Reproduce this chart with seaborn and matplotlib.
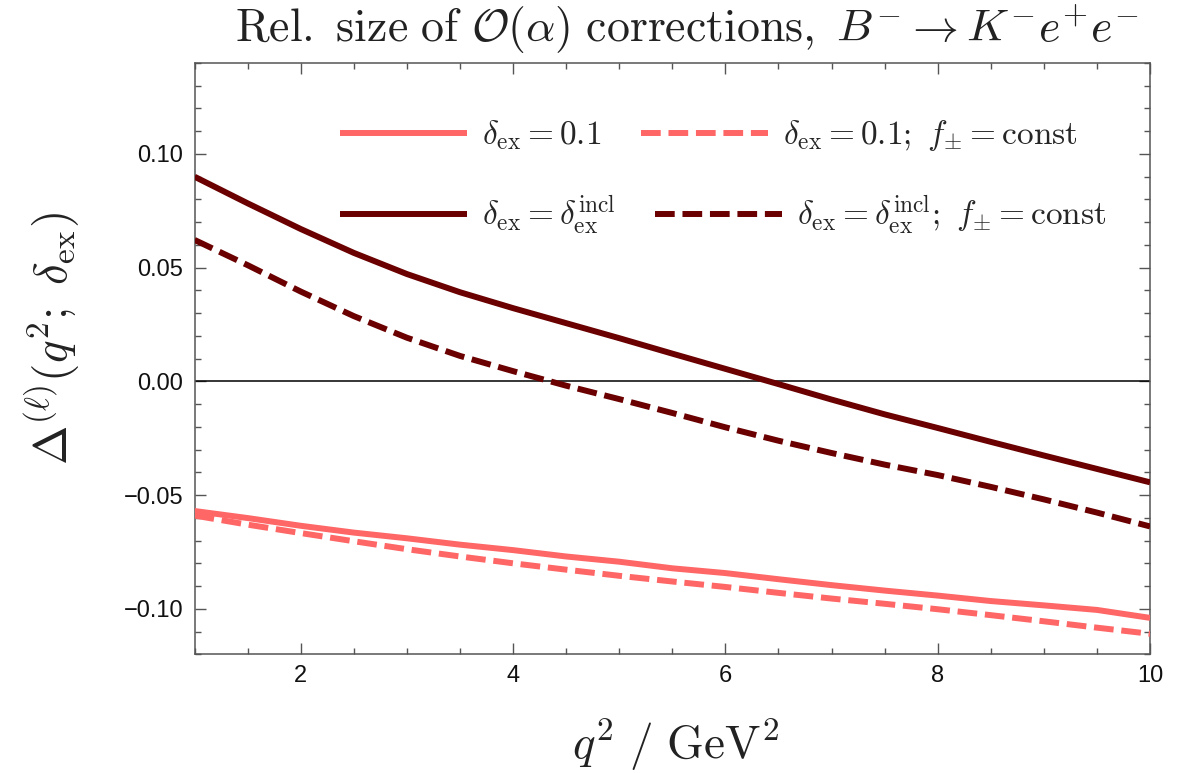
import matplotlib
matplotlib.use("Agg")
import matplotlib.pyplot as plt
from matplotlib.ticker import MultipleLocator, FuncFormatter
from matplotlib.lines import Line2D
import pandas as pd
import seaborn as sns

# q^2 grid in GeV^2
q2 = [1.0, 1.5, 2.0, 2.5, 3.0, 3.5, 4.0, 4.5, 5.0, 5.5,
      6.0, 6.5, 7.0, 7.5, 8.0, 8.5, 9.0, 9.5, 10.0]

# relative O(alpha) correction, delta_ex = 0.1
delta_01 = [-0.0570, -0.0601, -0.0635, -0.0665, -0.0690, -0.0718, -0.0742, -0.0770, -0.0793, -0.0822,
            -0.0843, -0.0870, -0.0896, -0.0920, -0.0942, -0.0966, -0.0985, -0.1005, -0.1040]
# delta_ex = 0.1 with constant form factors
delta_01_const = [-0.0590, -0.0630, -0.0667, -0.0703, -0.0738, -0.0770, -0.0800, -0.0828, -0.0855, -0.0880,
                  -0.0904, -0.0930, -0.0955, -0.0978, -0.1002, -0.1028, -0.1055, -0.1083, -0.1110]
# delta_ex = delta_ex^incl
delta_incl = [0.0900, 0.0783, 0.0670, 0.0565, 0.0472, 0.0392, 0.0322, 0.0256, 0.0190, 0.0122,
              0.0055, -0.0012, -0.0080, -0.0145, -0.0205, -0.0266, -0.0326, -0.0385, -0.0444]
# delta_ex = delta_ex^incl with constant form factors
delta_incl_const = [0.0622, 0.0511, 0.0395, 0.0287, 0.0192, 0.0112, 0.0045, -0.0019, -0.0078, -0.0139,
                    -0.0202, -0.0261, -0.0315, -0.0366, -0.0412, -0.0464, -0.0519, -0.0577, -0.0638]

LIGHT = "#ff6666"
DARK = "#6b0000"
LW = 4.3
DASH = (3.3, 1.3)

sns.set_theme(style="ticks")
plt.rcParams.update({
    "font.family": ["Liberation Sans", "DejaVu Sans"],
    "mathtext.fontset": "cm",
    "axes.edgecolor": "#555555",
    "axes.linewidth": 1.1,
    "xtick.color": "#555555",
    "ytick.color": "#555555",
    "xtick.labelcolor": "#111111",
    "ytick.labelcolor": "#111111",
})

frames = []
for vals, dex, form in [(delta_01, "0.1", "full"), (delta_01_const, "0.1", "const"),
                        (delta_incl, "incl", "full"), (delta_incl_const, "incl", "const")]:
    frames.append(pd.DataFrame({"q2": q2, "delta": vals, "delta_ex": dex, "form": form}))
df = pd.concat(frames, ignore_index=True)

fig = plt.figure(figsize=(11.82, 7.73), dpi=100)
ax = fig.add_axes([0.1646, 0.1536, 0.8084, 0.7649])

ax.axhline(0.0, color="black", lw=1.1, zorder=1)
sns.lineplot(data=df, x="q2", y="delta", hue="delta_ex", style="form",
             palette={"0.1": LIGHT, "incl": DARK},
             dashes={"full": "", "const": DASH},
             linewidth=LW, legend=False, sort=False, estimator=None, ax=ax, zorder=3)
for line in ax.get_lines():
    line.set_dash_capstyle("butt")
    line.set_solid_capstyle("butt")

ax.set_xlim(1, 10)
ax.set_ylim(-0.12, 0.14)
ax.set_xlabel("")
ax.set_ylabel("")

ax.xaxis.set_major_locator(MultipleLocator(2))
ax.xaxis.set_minor_locator(MultipleLocator(0.5))
ax.yaxis.set_major_locator(MultipleLocator(0.05))
ax.yaxis.set_minor_locator(MultipleLocator(0.01))
ax.yaxis.set_major_formatter(FuncFormatter(lambda v, _: f"{v:.2f}".replace("-", "\u2212")
                                           if abs(v) > 1e-9 else "0.00"))
ax.tick_params(which="both", direction="in", top=True, right=True, labelsize=17, width=1.0)
ax.tick_params(which="major", length=8, pad=8)
ax.tick_params(which="minor", length=4.3)
for s in ax.spines.values():
    s.set_visible(True)


def handle(color, dashed):
    h = Line2D([], [], color=color, lw=LW, solid_capstyle="butt", dash_capstyle="butt")
    if dashed:
        h.set_dashes(DASH)
    return h


# legend: one row per delta_ex choice
leg_kw = dict(ncol=2, frameon=False, fontsize=24, handlelength=3.8, handletextpad=0.45,
              borderpad=0, borderaxespad=0, loc="center left")
leg1 = ax.legend([handle(LIGHT, False), handle(LIGHT, True)],
                 [r"$\delta_{\rm ex} = 0.1$", r"$\delta_{\rm ex} = 0.1;\ f_{\pm} = {\rm const}$"],
                 bbox_to_anchor=(0.1523, 0.8766), columnspacing=1.2, **leg_kw)
ax.add_artist(leg1)
ax.legend([handle(DARK, False), handle(DARK, True)],
          [r"$\delta_{\rm ex} = \delta_{\rm ex}^{\rm incl}$",
           r"$\delta_{\rm ex} = \delta_{\rm ex}^{\rm incl};\ f_{\pm} = {\rm const}$"],
          bbox_to_anchor=(0.1523, 0.7429), columnspacing=1.2, **leg_kw)

fig.text(0.581, 0.961,
         r"$\mathrm{Rel.\ size\ of\ }\mathcal{O}(\alpha)\mathrm{\ corrections,}\ B^{-}\to K^{-}e^{+}e^{-}$",
         ha="center", va="center", fontsize=33, color="#222222")
fig.text(0.045, 0.562, r"$\Delta^{(\ell)}(q^2;\ \delta_{\rm ex})$", rotation=90,
         ha="center", va="center", fontsize=34, color="#222222")
fig.text(0.572, 0.037, r"$q^2\ /\ \mathrm{GeV}^2$", ha="center", va="center",
         fontsize=34, color="#222222")

fig.savefig("out.png", dpi=100)
